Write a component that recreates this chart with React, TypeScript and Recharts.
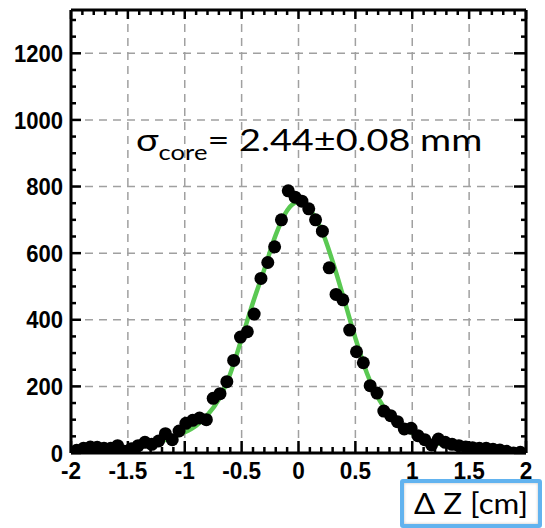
import { ComposedChart, Scatter, Line, XAxis, YAxis, CartesianGrid } from 'recharts';

// histogram bin centres (cm) and entries
const binCenters = [
  -1.95, -1.89, -1.83, -1.77, -1.71, -1.65, -1.59, -1.53, -1.47, -1.41, -1.35,
  -1.29, -1.23, -1.17, -1.11, -1.05, -0.99, -0.93, -0.87, -0.81, -0.75, -0.69,
  -0.63, -0.57, -0.51, -0.45, -0.39, -0.33, -0.27, -0.21, -0.15, -0.09, -0.03,
  0.03, 0.09, 0.15, 0.21, 0.27, 0.33, 0.39, 0.45, 0.51, 0.57, 0.63, 0.69, 0.75,
  0.81, 0.87, 0.93, 0.99, 1.05, 1.11, 1.17, 1.23, 1.29, 1.35, 1.41, 1.47, 1.53,
  1.59, 1.65, 1.71, 1.77, 1.83, 1.89, 1.95,
];
const binCounts = [
  8, 14, 18, 17, 14, 14, 22, 5, 13, 22, 32,
  26, 36, 58, 40, 66, 89, 98, 105, 100, 164, 178,
  214, 278, 348, 364, 417, 524, 572, 619, 700, 787, 768,
  756, 733, 700, 666, 556, 476, 460, 369, 304, 271, 202, 180, 126,
  112, 94, 72, 74, 52, 40, 24, 42, 32, 26, 22, 18, 16,
  14, 14, 11, 9, 5, 0, 2,
];

// fitted curve inside the fit range
const fitX = [
  -1.5, -1.4, -1.3, -1.2, -1.1, -1.0, -0.9, -0.8, -0.7, -0.6, -0.5, -0.4, -0.3,
  -0.2, -0.1, 0, 0.1, 0.2, 0.3, 0.4, 0.5, 0.6, 0.7, 0.8, 0.9, 1.0, 1.1, 1.2,
  1.3, 1.4, 1.5,
];
const fitY = [
  14, 20, 27, 36, 48, 62, 82, 114, 162, 238, 343, 452, 552,
  655, 728, 754, 730, 672, 575, 462, 345, 241, 165, 115, 82, 60, 44, 32,
  23, 17, 14,
];

// extrapolated curve outside the fit range
const tailLeftX = [-2, -1.9, -1.8, -1.7, -1.6, -1.5];
const tailLeftY = [3, 4, 5, 7, 10, 14];
const tailRightX = [1.5, 1.6, 1.7, 1.8, 1.9, 2];
const tailRightY = [14, 10, 8, 6, 5, 4];

const xTicks = [
  -2, -1.9, -1.8, -1.7, -1.6, -1.5, -1.4, -1.3, -1.2, -1.1, -1, -0.9, -0.8,
  -0.7, -0.6, -0.5, -0.4, -0.3, -0.2, -0.1, 0, 0.1, 0.2, 0.3, 0.4, 0.5, 0.6,
  0.7, 0.8, 0.9, 1, 1.1, 1.2, 1.3, 1.4, 1.5, 1.6, 1.7, 1.8, 1.9, 2,
];
const xLabels = [-2, -1.5, -1, -0.5, 0, 0.5, 1, 1.5, 2];
const yTicks = [
  0, 50, 100, 150, 200, 250, 300, 350, 400, 450, 500, 550, 600, 650, 700, 750,
  800, 850, 900, 950, 1000, 1050, 1100, 1150, 1200, 1250, 1300,
];
const yLabels = [0, 200, 400, 600, 800, 1000, 1200];
const gridX = [-1.5, -1, -0.5, 0, 0.5, 1, 1.5];
const gridY = [200, 400, 600, 800, 1000, 1200];

const points = binCenters.map((x, i) => ({ x, y: binCounts[i] }));
const fitData = fitX.map((x, i) => ({ x, y: fitY[i] }));
const tailLeft = tailLeftX.map((x, i) => ({ x, y: tailLeftY[i] }));
const tailRight = tailRightX.map((x, i) => ({ x, y: tailRightY[i] }));

const TICK_FONT = '"Liberation Sans", Arial, Helvetica, sans-serif';
const TEXT_FONT = "Lato, 'Open Sans', sans-serif";
const GREEN = '#5ac952';

function BottomTick(props: any) {
  const { x, y, payload } = props;
  const v = payload.value;
  const major = xLabels.includes(v);
  return (
    <g>
      <line x1={x} x2={x} y1={y} y2={y - (major ? 12 : 6)} stroke="#000" strokeWidth={2.5} />
      {major && (
        <g transform={`translate(${x},${y + 26}) scale(0.94,1)`}>
          <text textAnchor="middle" fontFamily={TICK_FONT} fontWeight="bold" fontSize={24} fill="#000">
            {String(v)}
          </text>
        </g>
      )}
    </g>
  );
}

function TopTick(props: any) {
  const { x, y, payload } = props;
  const major = xLabels.includes(payload.value);
  return <line x1={x} x2={x} y1={y} y2={y + (major ? 9 : 5)} stroke="#000" strokeWidth={2.5} />;
}

function LeftTick(props: any) {
  const { x, y, payload } = props;
  const v = payload.value;
  const major = yLabels.includes(v);
  return (
    <g>
      <line x1={x} x2={x + (major ? 10 : 5)} y1={y} y2={y} stroke="#000" strokeWidth={2.5} />
      {major && (
        <g transform={`translate(${x - 8},${y + 8.6}) scale(0.92,1)`}>
          <text textAnchor="end" fontFamily={TICK_FONT} fontWeight="bold" fontSize={24} fill="#000">
            {String(v)}
          </text>
        </g>
      )}
    </g>
  );
}

function RightTick(props: any) {
  const { x, y, payload } = props;
  const major = yLabels.includes(payload.value);
  return <line x1={x} x2={x - (major ? 12 : 5)} y1={y} y2={y} stroke="#000" strokeWidth={2.5} />;
}

const Dot = (p: any) => <circle cx={p.cx} cy={p.cy} r={6.5} fill="#000" />;

export default function App() {
  return (
    <div style={{ position: 'absolute', left: 0, top: 0, width: 545, height: 528, background: '#fff' }}>
      <ComposedChart width={545} height={528} margin={{ top: 9, right: 18, bottom: 74, left: 70 }}>
        <CartesianGrid
          stroke="#a0a0a0"
          strokeWidth={1.5}
          strokeDasharray="8 6"
          horizontalValues={gridY}
          verticalValues={gridX}
        />
        <XAxis
          dataKey="x"
          type="number"
          domain={[-2, 2]}
          ticks={xTicks}
          interval={0}
          height={1}
          tickSize={0}
          tickMargin={0}
          tickLine={false}
          axisLine={{ stroke: '#000', strokeWidth: 3 }}
          tick={BottomTick}
          allowDataOverflow
        />
        <XAxis
          xAxisId="top"
          orientation="top"
          dataKey="x"
          type="number"
          domain={[-2, 2]}
          ticks={xTicks}
          interval={0}
          height={1}
          tickSize={0}
          tickMargin={0}
          tickLine={false}
          axisLine={{ stroke: '#000', strokeWidth: 3 }}
          tick={TopTick}
          allowDataOverflow
        />
        <YAxis
          type="number"
          domain={[0, 1330]}
          ticks={yTicks}
          interval={0}
          width={1}
          tickSize={0}
          tickMargin={0}
          tickLine={false}
          axisLine={{ stroke: '#000', strokeWidth: 3 }}
          tick={LeftTick}
          allowDataOverflow
        />
        <YAxis
          yAxisId="right"
          orientation="right"
          type="number"
          domain={[0, 1330]}
          ticks={yTicks}
          interval={0}
          width={1}
          tickSize={0}
          tickMargin={0}
          tickLine={false}
          axisLine={{ stroke: '#000', strokeWidth: 3 }}
          tick={RightTick}
          allowDataOverflow
        />
        <Scatter data={points} dataKey="y" fill="#000" shape={Dot} isAnimationActive={false} />
        <Line
          data={fitData}
          dataKey="y"
          type="monotone"
          stroke={GREEN}
          strokeWidth={4.5}
          dot={false}
          activeDot={false}
          isAnimationActive={false}
        />
        <Line
          data={tailLeft}
          dataKey="y"
          type="monotone"
          stroke={GREEN}
          strokeWidth={4.5}
          strokeDasharray="9 5"
          dot={false}
          activeDot={false}
          isAnimationActive={false}
        />
        <Line
          data={tailRight}
          dataKey="y"
          type="monotone"
          stroke={GREEN}
          strokeWidth={4.5}
          strokeDasharray="9 5"
          dot={false}
          activeDot={false}
          isAnimationActive={false}
        />
      </ComposedChart>
      <svg
        width={545}
        height={528}
        style={{ position: 'absolute', left: 0, top: 0, pointerEvents: 'none' }}
      >
        <g transform="translate(136,151) scale(1.22,1)">
          <text x={0} y={0} fontFamily={TEXT_FONT} fontSize={31} fill="#000">
            σ
            <tspan dy={9} fontSize={21}>core</tspan>
            <tspan dy={-9}>= 2.44±0.08 mm</tspan>
          </text>
        </g>
      </svg>
      <div
        style={{
          position: 'absolute',
          left: 400,
          top: 479,
          width: 134,
          height: 41,
          border: '4px solid #62b3ef',
          borderRadius: 3,
          boxShadow: 'inset 0 0 3px rgba(0,0,0,0.25)',
          background: '#fff',
          overflow: 'hidden',
        }}
      >
        <svg width={134} height={41}>
          <g transform="translate(67,31) scale(1.12,1)">
            <text x={0} y={0} textAnchor="middle" fontFamily={TEXT_FONT} fontSize={28} fill="#000">
              Δ Z [cm]
            </text>
          </g>
        </svg>
      </div>
    </div>
  );
}
